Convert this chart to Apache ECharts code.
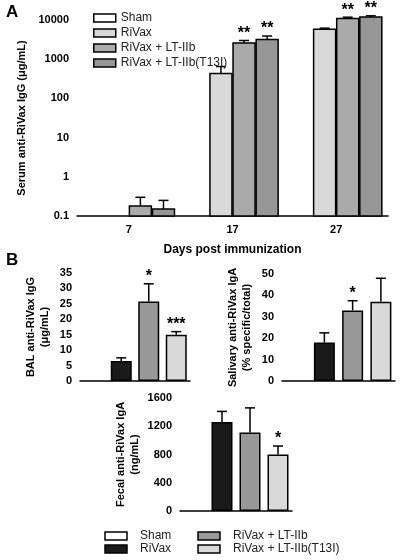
<!DOCTYPE html><html><head><meta charset="utf-8">
<script src="https://cdn.jsdelivr.net/npm/echarts@6/dist/echarts.min.js"></script>
<style>body{margin:0;background:#fff}#c{width:400px;height:560px}</style></head><body><div id="c"></div>
<script>
const daysA=['7','17','27'];
const groups=['Sham','RiVax','RiVax + LT-IIb','RiVax + LT-IIb(T13I)'];
const shamA=[null,null,null], shamAErr=[null,null,null];
const rivaxA=[null,430,5800], rivaxAErr=[null,220,400];
const ltA=[0.18,2600,11000], ltAErr=[0.12,400,800];
const t13A=[0.15,3200,12000], t13AErr=[0.1,700,800];
const sigA=[[null,null,null],[null,null,null],[null,'**','**'],[null,'**','**']];
const balVals=[null,6.5,25.8,15], balErr=[null,1,5.7,1], balSig=[null,null,'*','***'];
const salVals=[null,18,33,37], salErr=[null,4.5,4.5,11], salSig=[null,null,'*',null];
const fecVals=[null,1260,1110,800], fecErr=[null,150,350,120], fecSig=[null,null,null,'*'];
const colA=['#ffffff','#d9d9d9','#aaaaaa','#969696'];
const colB=['#ffffff','#1a1a1a','#999999','#d9d9d9'];
const F='Liberation Sans, Arial, sans-serif';
const ax={axisLine:{lineStyle:{color:'#000',width:1.5}},axisTick:{lineStyle:{color:'#000',width:1.5},length:4},splitLine:{show:false},
 axisLabel:{color:'#000',fontWeight:'bold',fontSize:11,fontFamily:F,formatter:v=>String(v)}};
function errSeries(xi,yi,vals,errs,sig,offset){
 const rows=vals.map((v,i)=>[i,v,errs[i],sig[i]]).filter(d=>d[1]!=null);
 return {type:'custom',xAxisIndex:xi,yAxisIndex:yi,z:1,silent:true,data:rows.map(r=>r.slice(0,3)),
  renderItem:(p,api)=>{const i=api.value(0),v=api.value(1),e=api.value(2);const s=rows[p.dataIndex][3];
   const a=api.coord([i,v]),b=api.coord([i,v+e]);const x=a[0]+offset;
   const ch=[{type:'line',shape:{x1:x,y1:a[1],x2:x,y2:b[1]},style:{stroke:'#000',lineWidth:1.5}},
    {type:'line',shape:{x1:x-5,y1:b[1],x2:x+5,y2:b[1]},style:{stroke:'#000',lineWidth:1.5}}];
   if(s)ch.push({type:'text',style:{text:s,x:x,y:b[1]+1,textAlign:'center',textVerticalAlign:'bottom',font:'bold 16px '+F,fill:'#000'}});
   return {type:'group',children:ch};}};
}
function logBars(vals,k,offset){
 const rows=vals.map((v,i)=>[i,v]).filter(d=>d[1]!=null);
 return {name:groups[k],type:'custom',xAxisIndex:0,yAxisIndex:0,z:2,data:rows,itemStyle:{color:colA[k]},
  renderItem:(p,api)=>{const a=api.coord([api.value(0),api.value(1)]),b=api.coord([api.value(0),0.1]);
   return {type:'rect',shape:{x:a[0]+offset-11,y:a[1],width:22,height:b[1]-a[1]},style:{fill:colA[k],stroke:'#000',lineWidth:1.5}};}};
}
const series=[];
const aVals=[shamA,rivaxA,ltA,t13A],aErr=[shamAErr,rivaxAErr,ltAErr,t13AErr];
aVals.forEach((v,k)=>{series.push(logBars(v,k,(k-1.5)*23.1));});
aVals.forEach((v,k)=>{series.push(errSeries(0,0,v,aErr[k],sigA[k],(k-1.5)*23.1));});
[[balVals,balErr,balSig],[salVals,salErr,salSig],[fecVals,fecErr,fecSig]].forEach((t,g)=>{
 series.push({type:'bar',xAxisIndex:g+1,yAxisIndex:g+1,barWidth:21,z:2,data:t[0].map((v,i)=>({value:v,itemStyle:{color:colB[i]}})),
  itemStyle:{borderColor:'#000',borderWidth:1.5}});
 series.push(errSeries(g+1,g+1,t[0],t[1],t[2],0));});
const catB=groups;
const opt={animation:false,
 legend:{data:groups.map(n=>({name:n,icon:'rect'})),orient:'vertical',left:88,top:7,itemGap:3,itemWidth:22,itemHeight:8,textStyle:{fontSize:12,fontFamily:F,color:'#222'},
  itemStyle:{borderColor:'#000',borderWidth:1.5}},
 grid:[{left:77,top:20,width:311,height:196},{left:80,top:273,width:110,height:108},{left:282,top:274,width:113,height:107},{left:180,top:398,width:112,height:113}],
 xAxis:[Object.assign({},ax,{type:'category',gridIndex:0,data:daysA,axisTick:{show:false},name:'Days post immunization',nameLocation:'middle',nameGap:28,nameTextStyle:{fontWeight:'bold',fontSize:12,fontFamily:F}}),
  ...[1,2,3].map(g=>Object.assign({},ax,{type:'category',gridIndex:g,data:catB,axisTick:{show:false},axisLabel:{show:false}}))],
 yAxis:[Object.assign({},ax,{type:'log',gridIndex:0,min:0.1,max:10000,logBase:10,name:'Serum anti-RiVax IgG (μg/mL)',nameLocation:'middle',nameGap:46,nameTextStyle:{fontWeight:'bold',fontSize:11,fontFamily:F}}),
  Object.assign({},ax,{gridIndex:1,min:0,max:35,interval:5,name:'BAL anti-RiVax IgG\n(μg/mL)',nameLocation:'middle',nameGap:28,nameTextStyle:{fontWeight:'bold',fontSize:11,fontFamily:F,lineHeight:14}}),
  Object.assign({},ax,{gridIndex:2,min:0,max:50,interval:10,name:'Salivary anti-RiVax IgA\n(% specific/total)',nameLocation:'middle',nameGap:28,nameTextStyle:{fontWeight:'bold',fontSize:11,fontFamily:F,lineHeight:14}}),
  Object.assign({},ax,{gridIndex:3,min:0,max:1600,interval:400,name:'Fecal anti-RiVax IgA\n(ng/mL)',nameLocation:'middle',nameGap:38,nameTextStyle:{fontWeight:'bold',fontSize:11,fontFamily:F,lineHeight:14}})],
 graphic:[{type:'text',left:6,top:4,style:{text:'A',font:'bold 17px '+F,fill:'#000'}},
  {type:'text',left:6,top:252,style:{text:'B',font:'bold 17px '+F,fill:'#000'}},
  ...[[0,105,536],[1,105,549],[2,198,536],[3,198,549]].map(([k,x,y])=>({type:'group',children:[
   {type:'rect',shape:{x:x,y:y-4,width:22,height:8},style:{fill:colB[k],stroke:'#000',lineWidth:1.5}},
   {type:'text',style:{text:groups[k],x:x+35,y:y,textVerticalAlign:'middle',font:'12px '+F,fill:'#222'}}]}))],
 series:series};
echarts.init(document.getElementById('c')).setOption(opt);
</script></body></html>
